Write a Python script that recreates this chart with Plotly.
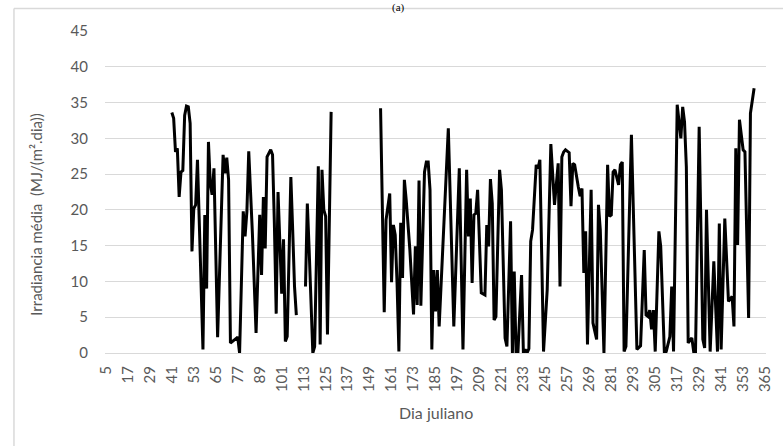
import plotly.graph_objects as go

# Julian day and mean irradiance (MJ/(m2.dia))
days_a = [41, 42, 43, 44, 45, 46, 47, 48, 49, 50, 51, 52, 53, 54, 55, 58, 59, 60, 61, 62,
          63, 64, 66, 69, 70, 71, 72, 73, 75, 77, 78, 80, 81, 82, 83, 85, 87, 89, 90, 91,
          92, 93, 95, 96, 97, 98, 99, 100, 101, 102, 103, 104, 106, 107, 108, 109]
vals_a = [33.6, 32.8, 28.1, 28.6, 21.8, 25.3, 25.5, 33.2, 34.5, 34.4, 32.1, 14.2, 20.2, 20.7, 27.0, 0.5, 19.3, 9.0, 29.5, 23.7,
          22.1, 25.8, 2.2, 27.7, 25.1, 27.3, 24.2, 1.4, 1.8, 2.2, 0.0, 19.8, 16.3, 19.8, 28.2, 16.7, 2.8, 19.3, 10.9, 21.8,
          14.6, 27.4, 28.4, 27.7, 18.1, 5.5, 22.5, 15.1, 8.3, 15.9, 1.6, 2.3, 24.6, 17.2, 9.3, 5.3]

days_b = [114, 115, 116, 117, 118, 119, 121, 122, 123, 124, 125, 126, 128]
vals_b = [9.3, 20.9, 14.4, 7.0, 0.0, 0.9, 26.1, 1.2, 25.6, 20.0, 19.1, 2.6, 33.7]

days_c = [155, 157, 158, 160, 161, 162, 163, 164, 165, 166, 167, 168, 169, 171, 173, 174, 175, 176, 177, 179,
          180, 181, 182, 183, 184, 185, 186, 187, 192, 195, 198, 200, 202, 203, 204, 205, 206, 207, 208, 210,
          212, 213, 214, 215, 216, 217, 218, 220, 221, 223, 224, 226, 227, 228, 229, 230, 232, 233, 234, 235,
          236, 237, 238, 240, 241, 242, 244, 246, 248, 249, 250, 252, 253, 254, 255, 256, 258, 259, 260, 261,
          262, 263, 264, 265, 266, 267, 268, 270, 271, 273, 274, 275, 277, 279, 280, 281, 282, 283, 285, 286,
          287, 288, 289, 292, 295, 297, 299, 300, 301, 302, 303, 304, 305, 307, 308, 310, 311, 313, 314, 315,
          317, 318, 319, 320, 321, 322, 323, 325, 326, 327, 329, 331, 332, 333, 335, 337, 339, 340, 341, 343,
          345, 347, 348, 349, 350, 351, 353, 354, 356, 357, 359]
vals_c = [34.2, 5.7, 18.6, 22.3, 9.9, 17.9, 16.5, 9.8, 0.2, 18.2, 10.5, 24.2, 21.4, 14.4, 5.4, 14.9, 6.7, 24.1, 6.6, 25.3,
          26.7, 26.7, 22.8, 0.5, 11.6, 5.8, 11.6, 3.7, 31.4, 3.7, 25.8, 0.5, 25.6, 16.3, 21.6, 9.8, 19.3, 19.5, 22.8, 8.4,
          8.1, 17.9, 14.9, 24.3, 20.9, 4.6, 5.1, 25.6, 22.8, 2.1, 0.9, 18.4, 0.0, 11.4, 0.0, 0.0, 10.9, 0.0, 0.5, 0.0,
          0.6, 15.6, 17.2, 26.3, 25.8, 27.0, 0.2, 8.8, 29.2, 25.1, 20.7, 26.5, 9.3, 27.4, 28.1, 28.4, 28.0, 20.5, 26.5, 26.3,
          24.4, 23.2, 21.9, 23.0, 11.2, 17.0, 1.2, 22.8, 4.2, 1.9, 20.7, 17.2, 0.0, 26.3, 19.1, 19.3, 25.3, 25.6, 23.5, 26.3,
          26.7, 0.2, 0.9, 30.5, 0.5, 1.0, 14.4, 5.3, 5.1, 6.0, 3.3, 6.0, 0.2, 17.0, 14.9, 0.0, 0.2, 2.3, 9.3, 0.2,
          34.7, 32.3, 30.0, 34.4, 32.3, 26.0, 1.4, 2.1, 0.2, 0.2, 31.6, 1.9, 0.7, 20.0, 0.2, 12.8, 0.2, 18.1, 0.5, 18.8,
          7.2, 7.9, 3.7, 28.6, 15.1, 32.6, 28.4, 28.1, 4.9, 33.5, 37.0]

x_ticks = list(range(5, 366, 12))
x_tick_labels = [str(v) for v in x_ticks]
y_ticks = [0, 5, 10, 15, 20, 25, 30, 35, 40, 45]

x_all = days_a + [110] + days_b + [140] + days_c
y_all = vals_a + [None] + vals_b + [None] + vals_c

fig = go.Figure()
fig.add_trace(go.Scatter(x=x_all, y=y_all, mode="lines",
                         line=dict(color="black", width=3),
                         connectgaps=False, showlegend=False))

W, H = 783, 446
L, R, T, B = 105, 10, 31, 93
pw, ph = W - L - R, H - T - B

def px(xp):
    return (xp - L) / pw

def py(yp):
    return (H - B - yp) / ph

gray = "#595959"
grid = "#d9d9d9"
font_name = "Lato"

fig.update_layout(
    width=W, height=H,
    margin=dict(l=L, r=R, t=T, b=B, pad=0),
    paper_bgcolor="white", plot_bgcolor="white",
    font=dict(family=font_name, color=gray, size=15),
    xaxis=dict(range=[4.5, 365.5], tickmode="array", tickvals=x_ticks, ticktext=x_tick_labels,
               tickangle=-90, showgrid=False, zeroline=False, showline=True,
               linecolor=grid, linewidth=1, ticks="", ticklabelstandoff=6,
               tickfont=dict(size=15, color=gray, family=font_name)),
    yaxis=dict(range=[0, 45], tickmode="array", tickvals=y_ticks,
               showgrid=True, gridcolor=grid, gridwidth=1, zeroline=False,
               showline=False, ticks="", ticklabelstandoff=16,
               tickfont=dict(size=15, color=gray, family=font_name)),
    annotations=[
        dict(text="Dia juliano", x=px(439), y=py(412), xref="paper", yref="paper",
             showarrow=False, xanchor="center", yanchor="middle",
             font=dict(size=16, color=gray, family=font_name)),
        dict(text="Irradiancia média  (MJ/(m².dia))", x=px(35), y=py(214), xref="paper", yref="paper",
             showarrow=False, xanchor="center", yanchor="middle", textangle=-90,
             font=dict(size=15, color=gray, family=font_name)),
        dict(text="(a)", x=px(402), y=py(0.5), xref="paper", yref="paper",
             showarrow=False, xanchor="center", yanchor="top", borderpad=0,
             font=dict(size=11, color="black", family="Liberation Serif")),
    ],
    shapes=[
        dict(type="line", xref="paper", yref="paper", x0=px(13), x1=px(800), y0=py(8.5), y1=py(8.5),
             line=dict(color=grid, width=1.5), layer="below"),
        dict(type="line", xref="paper", yref="paper", x0=px(13), x1=px(13), y0=py(8.5), y1=py(460),
             line=dict(color=grid, width=1.5), layer="below"),
    ],
)

fig.write_html("out.html")
